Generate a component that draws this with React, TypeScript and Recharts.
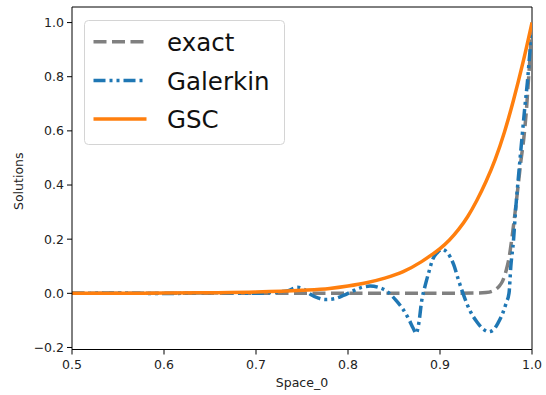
import { Legend, Line, LineChart, ReferenceLine, XAxis, YAxis } from "recharts";

const exactX = [0.5, 0.6, 0.7, 0.8, 0.9, 0.94, 0.95, 0.958, 0.964, 0.968, 0.972, 0.975, 0.978, 0.982, 0.985, 0.988, 0.991, 0.994, 0.996, 0.998, 1.0];
const exactY = [0, 0, 0, 0, 0, 0.001, 0.003, 0.01, 0.025, 0.045, 0.085, 0.13, 0.2, 0.31, 0.4, 0.49, 0.57, 0.68, 0.78, 0.88, 1.0];

const galerkinX = [
  0.5, 0.55, 0.6, 0.65, 0.7, 0.72, 0.735, 0.745, 0.752, 0.76, 0.768, 0.775, 0.785, 0.795, 0.805, 0.815,
  0.824, 0.833, 0.842, 0.852, 0.86, 0.866, 0.871, 0.874, 0.877, 0.88, 0.884, 0.888, 0.892, 0.897, 0.902,
  0.908, 0.915, 0.92, 0.925, 0.932, 0.94, 0.947, 0.953, 0.958, 0.963, 0.968, 0.972, 0.975, 0.977, 0.98,
  0.982, 0.985, 0.989, 0.992, 0.995, 0.998, 1.0,
];
const galerkinY = [
  0, 0.001, -0.001, 0.002, 0, 0.004, 0.01, 0.022, 0.015, -0.005, -0.018, -0.023, -0.02, -0.008, 0.008, 0.022,
  0.027, 0.022, 0.008, -0.025, -0.06, -0.095, -0.13, -0.148, -0.11, -0.03, 0.03, 0.08, 0.125, 0.15, 0.162,
  0.15, 0.105, 0.05, 0.0, -0.06, -0.105, -0.132, -0.142, -0.135, -0.11, -0.075, -0.035, 0.0, 0.1, 0.2,
  0.3, 0.42, 0.57, 0.68, 0.78, 0.9, 0.96,
];

const gscX = [0.5, 0.55, 0.6, 0.65, 0.7, 0.75, 0.78, 0.8, 0.82, 0.84, 0.86, 0.88, 0.89, 0.9, 0.91, 0.92, 0.93, 0.94, 0.95, 0.96, 0.97, 0.98, 0.99, 1.0];
const gscY = [0.0001, 0.0003, 0.0008, 0.002, 0.0045, 0.011, 0.018, 0.027, 0.039, 0.056, 0.08, 0.117, 0.14, 0.165, 0.196, 0.235, 0.283, 0.343, 0.413, 0.495, 0.595, 0.715, 0.85, 1.0];

const xTicks = [0.5, 0.6, 0.7, 0.8, 0.9, 1.0];
const yTicks = [-0.2, 0, 0.2, 0.4, 0.6, 0.8, 1.0];

const exactData = exactX.map((x, i) => ({ x, y: exactY[i] }));
const galerkinData = galerkinX.map((x, i) => ({ x, y: galerkinY[i] }));
const gscData = gscX.map((x, i) => ({ x, y: gscY[i] }));

const FONT = "'DejaVu Sans', sans-serif";
const fmt = (v: number) => v.toFixed(1).replace("-", "\u2212");

const series = [
  { name: "exact", color: "#808080", dash: "13 5.5" },
  { name: "Galerkin", color: "#1f77b4", dash: "12 4 3 4 3 4" },
  { name: "GSC", color: "#ff7f0e", dash: undefined },
];

function LegendBox() {
  return (
    <svg width={202} height={126} style={{ display: "block" }}>
      <rect x={0.5} y={0.5} width={200} height={124} rx={4} fill="rgba(255,255,255,0.8)" stroke="#d4d4d4" />
      {series.map((s, i) => (
        <g key={s.name}>
          <line x1={9.5} x2={62.5} y1={21.7 + 38.7 * i} y2={21.7 + 38.7 * i} stroke={s.color} strokeWidth={3.5} strokeDasharray={s.dash} />
          <text x={83} y={31 + 38.7 * i} fontSize={24.5} fontFamily={FONT} fill="#111">
            {s.name}
          </text>
        </g>
      ))}
    </svg>
  );
}

function YLabel(props: any) {
  const vb = props.viewBox || { x: 0, y: 0, height: 0 };
  const cx = 18.5;
  const cy = vb.y + vb.height / 2 + 3;
  return (
    <text x={cx} y={cy} transform={`rotate(-90 ${cx} ${cy})`} textAnchor="middle" dominantBaseline="central" fontSize={12.5} fontFamily={FONT} fill="#222">
      Solutions
    </text>
  );
}

export default function App() {
  const tickStyle = { fontSize: 12.5, fontFamily: FONT, fill: "#222" };
  return (
    <div style={{ position: "absolute", left: 0, top: 0, width: 546, height: 395, background: "#fff" }}>
      <LineChart width={546} height={395} margin={{ top: 7, right: 14, bottom: 0, left: 12 }}>
        <XAxis
          type="number"
          dataKey="x"
          domain={[0.5, 1.0]}
          ticks={xTicks}
          tickFormatter={fmt}
          allowDataOverflow
          height={45.5}
          tickSize={5}
          tickMargin={6}
          tick={tickStyle}
          stroke="#000"
          tickLine={{ stroke: "#000" }}
          axisLine={{ stroke: "#000" }}
          label={{ value: "Space_0", position: "insideBottom", offset: 8, style: { fontSize: 12.5, fontFamily: FONT, fill: "#222" } }}
        />
        <YAxis
          type="number"
          dataKey="y"
          domain={[-0.2075, 1.0575]}
          ticks={yTicks}
          tickFormatter={fmt}
          allowDataOverflow
          width={60}
          tickSize={5}
          tickMargin={3}
          tick={tickStyle}
          stroke="#000"
          tickLine={{ stroke: "#000" }}
          axisLine={{ stroke: "#000" }}
          label={<YLabel />}
        />
        <ReferenceLine x={1.0} stroke="#000" strokeWidth={1} />
        <ReferenceLine y={1.0575} stroke="#000" strokeWidth={1} />
        <Line data={exactData} dataKey="y" type="monotone" stroke="#808080" strokeWidth={3.5} strokeDasharray="13 5.5" dot={false} isAnimationActive={false} />
        <Line data={galerkinData} dataKey="y" type="monotone" stroke="#1f77b4" strokeWidth={3.5} strokeDasharray="12 4 3 4 3 4" dot={false} isAnimationActive={false} />
        <Line data={gscData} dataKey="y" type="monotone" stroke="#ff7f0e" strokeWidth={3.5} dot={false} isAnimationActive={false} />
        <Legend
          layout="horizontal"
          verticalAlign="middle"
          content={() => <LegendBox />}
          wrapperStyle={{ left: 84, top: 20, width: 202, height: 126 }}
        />
      </LineChart>
    </div>
  );
}
